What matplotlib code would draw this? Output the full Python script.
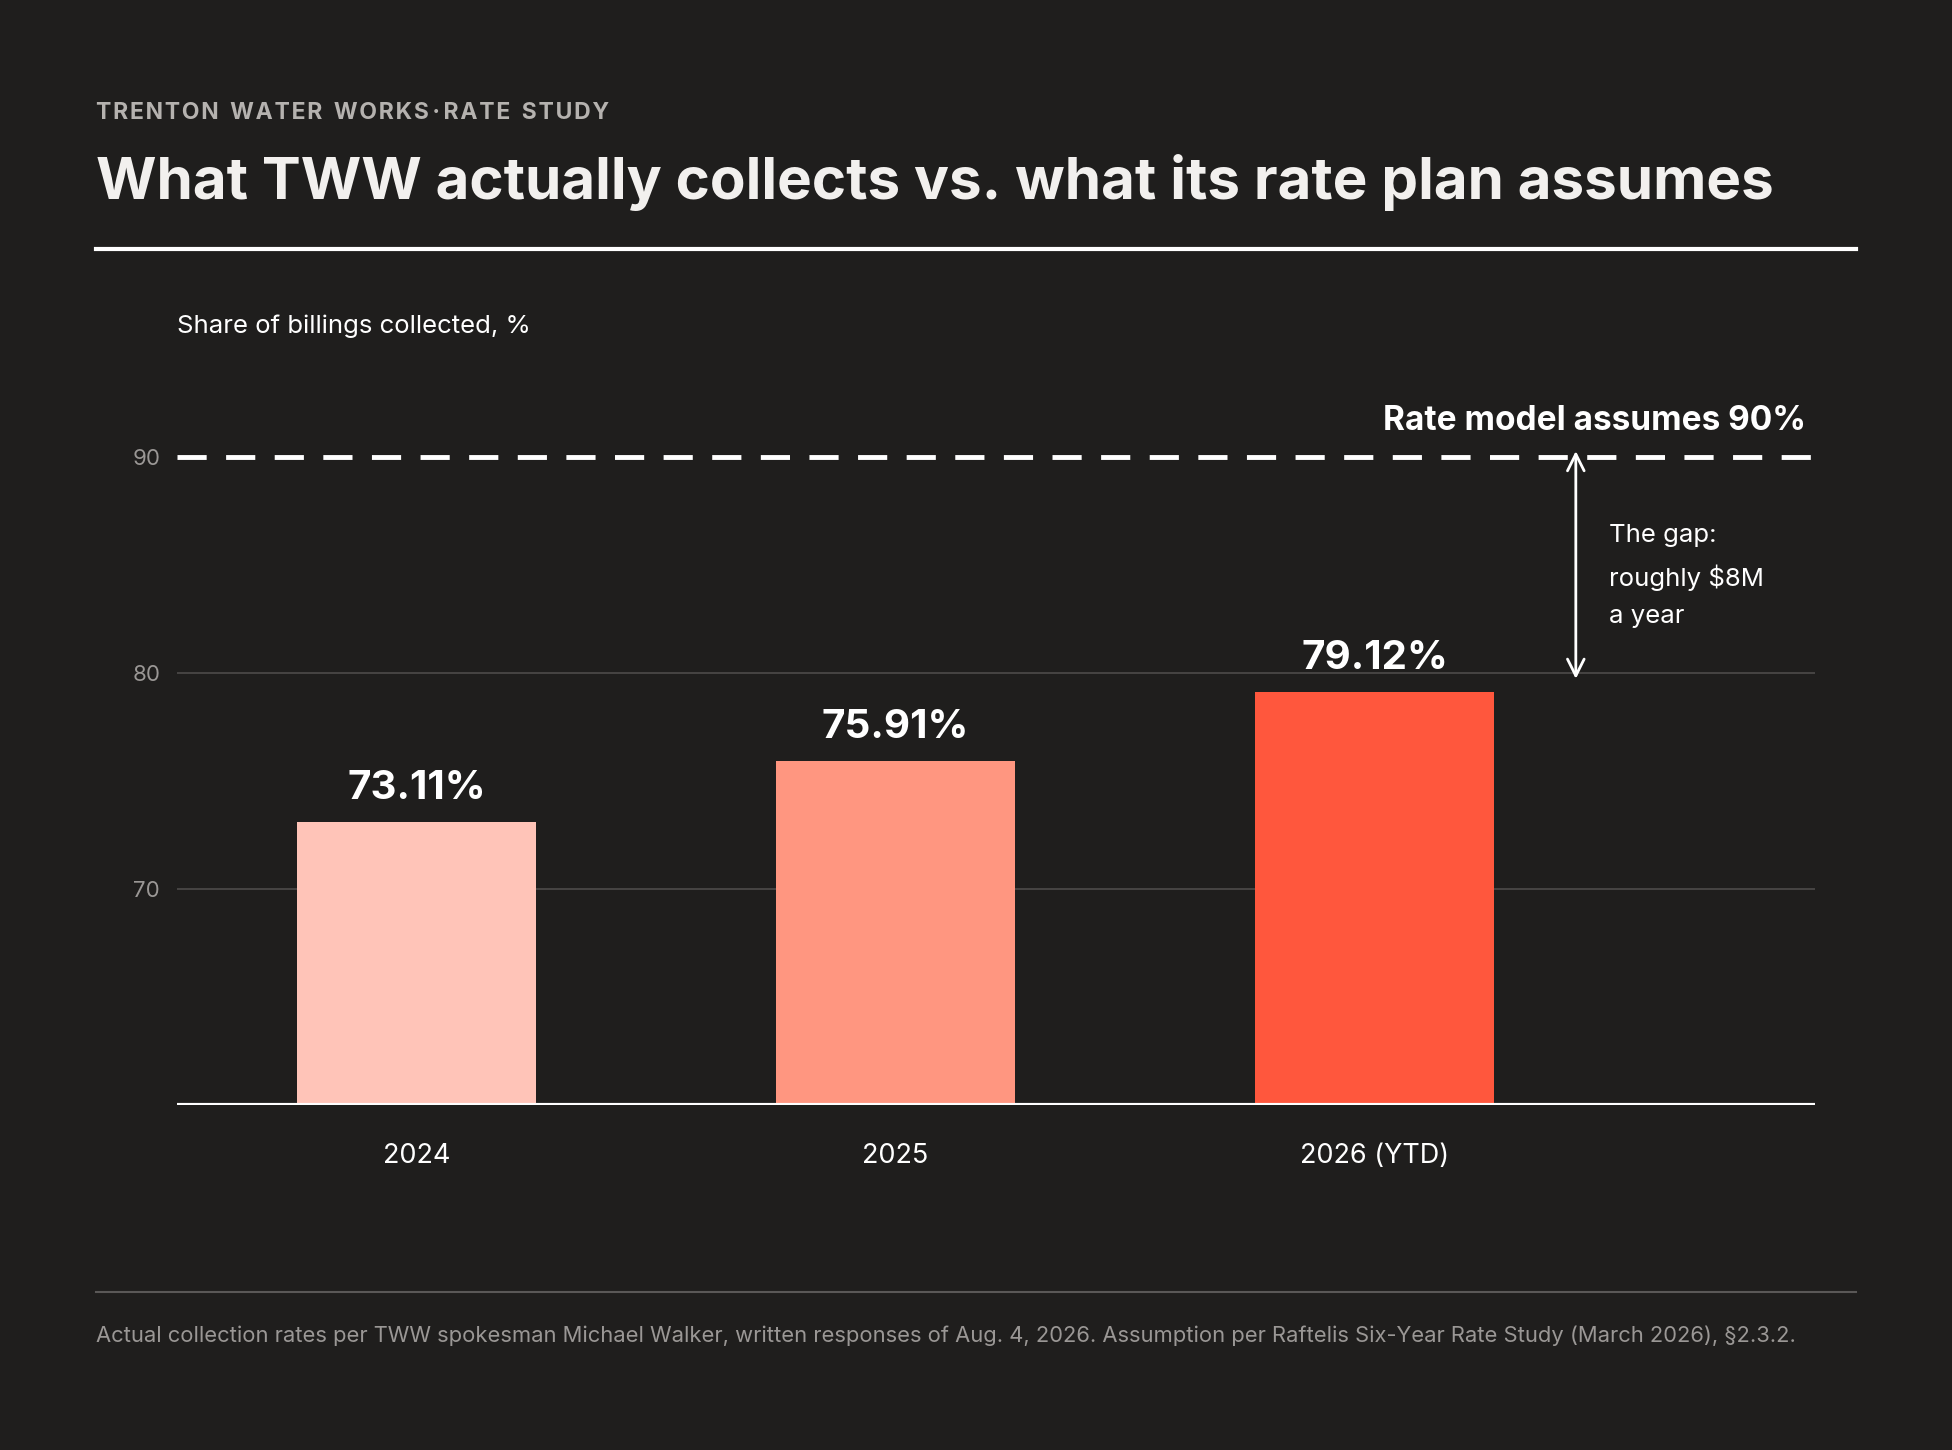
import matplotlib.pyplot as plt
from matplotlib.lines import Line2D

years = ["2024", "2025", "2026 (YTD)"]
rates = [73.11, 75.91, 79.12]
assumed = 90
bar_colors = ["#ffc4b8", "#ff9680", "#ff573d"]

bg = "#1f1e1d"
plt.rcParams['font.family'] = ['Inter', 'DejaVu Sans']

fig = plt.figure(figsize=(19.52, 14.5), dpi=100, facecolor=bg)
ax = fig.add_axes([0.0906, 0.2378, 0.8394, 0.4918], facecolor=bg)

x = range(len(years))
ax.bar(x, rates, width=0.5, color=bar_colors, zorder=3)
for i, v in enumerate(rates):
    ax.text(i, v + 0.7, f"{v:.2f}%", ha='center', va='bottom', color='white',
            fontsize=29, fontweight='bold', zorder=4)

ax.set_xlim(-0.5, 2.92)
ax.set_ylim(60, 93)
for g in (70, 80):
    ax.axhline(g, color='#4a4847', lw=1.3, zorder=1)
ax.axhline(assumed, color='white', lw=3.5, dashes=(6, 4), zorder=2)
ax.axhline(60, color='white', lw=3, zorder=5)
ax.text(2.9, assumed + 0.9, "Rate model assumes 90%", ha='right', va='bottom',
        color='white', fontsize=24, fontweight='bold')

ax.annotate("", xy=(2.42, 79.6), xytext=(2.42, 90.4),
            arrowprops=dict(arrowstyle='<->', color='white', lw=2, mutation_scale=30))
ax.text(2.49, 86.9, "The gap:\nroughly $8M\na year", color='white', fontsize=18.5,
        va='top', ha='left', linespacing=1.8)

ax.set_yticks([70, 80, 90])
ax.set_xticks(list(x))
ax.set_xticklabels(years)
ax.tick_params(axis='y', colors='#9a9795', labelsize=16, length=0, pad=12)
ax.tick_params(axis='x', colors='white', labelsize=19.5, length=0, pad=27)
for s in ax.spines.values():
    s.set_visible(False)

fig.text(0.0491, 1 - 91 / 1165, "T R E N T O N   W A T E R   W O R K S  ·  R A T E   S T U D Y".replace("   ", "\u2002").replace(" ", "\u200a"),
         color='#b5b2af', fontsize=16.5, fontweight='bold', va='center')
fig.text(0.0491, 1 - 147 / 1165, "What TWW actually collects vs. what its rate plan assumes",
         color='#f2f0ee', fontsize=42, fontweight='bold', va='center')
fig.add_artist(Line2D([0.0491, 0.951], [1 - 200 / 1165] * 2, color='white', lw=3,
                      transform=fig.transFigure))
fig.text(0.0906, 1 - 262 / 1165, "Share of billings collected, %", color='white',
         fontsize=18.5, va='center')
fig.add_artist(Line2D([0.0491, 0.951], [1 - 1038 / 1165] * 2, color='#5a5857', lw=1.5,
                      transform=fig.transFigure))
fig.text(0.0491, 1 - 1073 / 1165,
         "Actual collection rates per TWW spokesman Michael Walker, written responses of Aug. 4, 2026. "
         "Assumption per Raftelis Six-Year Rate Study (March 2026), §2.3.2.",
         color='#9a9795', fontsize=15.8, va='center')

fig.savefig("out.png", facecolor=bg)
